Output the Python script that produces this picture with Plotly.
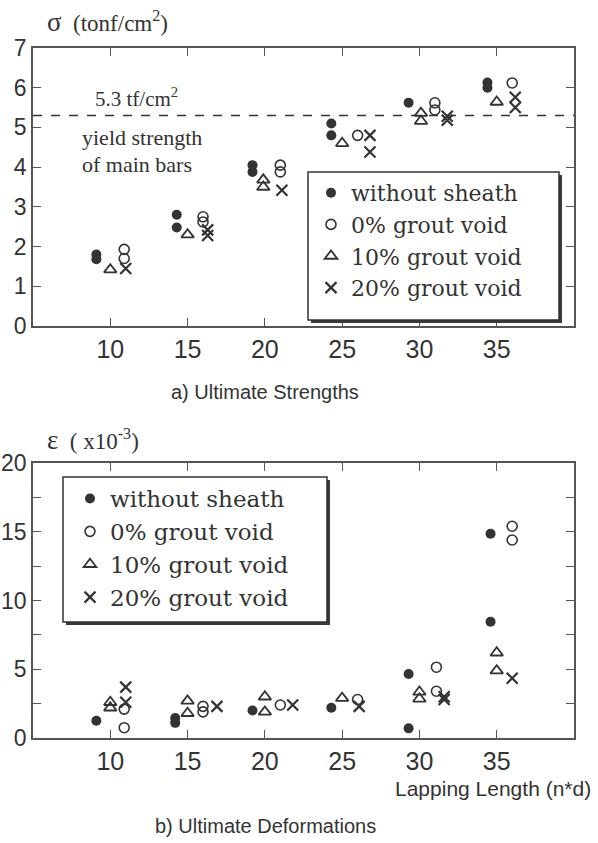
import plotly.graph_objects as go

# ---------------- data ----------------
series_names = ["without sheath", "0% grout void", "10% grout void", "20% grout void"]
x_ticks = [10, 15, 20, 25, 30, 35]
yield_strength = 5.3

# a) ultimate strengths sigma (tonf/cm2)
sig_without_x = [9.1, 9.1, 14.3, 14.3, 19.2, 19.2, 24.3, 24.3, 29.3, 34.4, 34.4]
sig_without_y = [1.8, 1.68, 2.8, 2.48, 4.05, 3.88, 5.1, 4.8, 5.62, 6.13, 6.0]
sig_0_x = [10.9, 10.9, 16.0, 16.0, 21.0, 21.0, 26.0, 31.0, 31.0, 36.0]
sig_0_y = [1.93, 1.7, 2.75, 2.62, 4.05, 3.88, 4.8, 5.62, 5.44, 6.12]
sig_10_x = [10.0, 15.0, 19.9, 19.9, 25.0, 30.1, 30.1, 35.0]
sig_10_y = [1.42, 2.3, 3.68, 3.5, 4.6, 5.36, 5.16, 5.64]
sig_20_x = [11.0, 16.3, 16.3, 21.1, 26.8, 26.8, 31.8, 31.8, 36.2, 36.2]
sig_20_y = [1.45, 2.42, 2.28, 3.42, 4.8, 4.38, 5.28, 5.18, 5.76, 5.5]

# b) ultimate deformations epsilon (x10^-3)
eps_without_x = [9.1, 14.2, 14.2, 19.2, 24.3, 29.3, 29.3, 34.6, 34.6]
eps_without_y = [1.25, 1.45, 1.1, 2.0, 2.2, 4.65, 0.7, 14.85, 8.45]
eps_0_x = [10.9, 10.9, 16.0, 16.0, 21.0, 26.0, 31.1, 31.1, 36.0, 36.0]
eps_0_y = [2.1, 0.75, 2.3, 1.9, 2.4, 2.8, 5.15, 3.4, 15.4, 14.4]
eps_10_x = [10.0, 10.0, 15.0, 15.0, 20.0, 20.0, 25.0, 30.0, 30.0, 35.0, 35.0]
eps_10_y = [2.6, 2.2, 2.7, 1.8, 3.0, 1.9, 2.9, 3.35, 2.85, 6.2, 4.9]
eps_20_x = [11.0, 11.0, 16.9, 21.8, 26.1, 31.6, 31.6, 36.0]
eps_20_y = [3.7, 2.6, 2.3, 2.4, 2.3, 3.0, 2.8, 4.35]

# ---------------- styles ----------------
INK = "#333333"
AX = "#555555"
SANS = "Liberation Sans"
SERIF = "Liberation Serif"
LEGF = "DejaVu Serif"

marker_styles = [
    dict(symbol="circle", size=10, color=INK, line=dict(width=0)),
    dict(symbol="circle-open", size=10, color=INK, line=dict(width=1.6, color=INK)),
    dict(symbol="triangle-up-open", size=11, color=INK, line=dict(width=1.8, color=INK)),
    dict(symbol="x-thin-open", size=11, color=INK, line=dict(width=2.2, color=INK)),
]

fig = go.Figure()

top_sets = [(sig_without_x, sig_without_y), (sig_0_x, sig_0_y), (sig_10_x, sig_10_y), (sig_20_x, sig_20_y)]
bot_sets = [(eps_without_x, eps_without_y), (eps_0_x, eps_0_y), (eps_10_x, eps_10_y), (eps_20_x, eps_20_y)]

for name, (xs, ys), ms in zip(series_names, top_sets, marker_styles):
    fig.add_trace(go.Scatter(x=xs, y=ys, mode="markers", name=name, marker=ms,
                             xaxis="x", yaxis="y", legend="legend"))
for name, (xs, ys), ms in zip(series_names, bot_sets, marker_styles):
    fig.add_trace(go.Scatter(x=xs, y=ys, mode="markers", name=name, marker=ms,
                             xaxis="x2", yaxis="y2", legend="legend2"))

W, H = 598, 843
def px(x):
    return x / W
def py(y):
    return 1 - y / H

axis_common = dict(showline=True, linecolor=AX, linewidth=1.6, mirror="ticks",
                   ticks="inside", ticklen=8, tickwidth=1.3, tickcolor=AX,
                   showgrid=False, zeroline=False, automargin=False,
                   tickfont=dict(family=SANS, size=23, color=INK))
xtickfont = dict(family=SANS, size=25, color=INK)

fig.update_layout(
    width=W, height=H, margin=dict(l=0, r=0, t=0, b=0, autoexpand=False),
    paper_bgcolor="white", plot_bgcolor="white",
    xaxis=dict(domain=[px(33), px(574)], range=[5, 40], tickvals=x_ticks, anchor="y",
               **{**axis_common, "tickfont": xtickfont}),
    yaxis=dict(domain=[py(326), py(48)], range=[0, 7], dtick=1, anchor="x", **axis_common),
    xaxis2=dict(domain=[px(33), px(574)], range=[5, 40], tickvals=x_ticks, anchor="y2",
                **{**axis_common, "tickfont": xtickfont}),
    yaxis2=dict(domain=[py(738), py(463)], range=[0, 20], dtick=5, anchor="x2",
                minor=dict(dtick=2.5, ticks="inside", ticklen=8, tickcolor=AX, tickwidth=1.3),
                **axis_common),
    legend=dict(x=px(311), y=py(172), xanchor="left", yanchor="top",
                bgcolor="rgba(0,0,0,0)", borderwidth=0,
                font=dict(family=LEGF, size=22, color=INK)),
    legend2=dict(x=px(70), y=py(477), xanchor="left", yanchor="top",
                 bgcolor="rgba(0,0,0,0)", borderwidth=0,
                 font=dict(family=LEGF, size=23, color=INK)),
    showlegend=True,
)

# yield strength line
fig.add_shape(type="line", xref="x", yref="y", x0=5, x1=40, y0=yield_strength, y1=yield_strength,
              line=dict(color=INK, width=1.6, dash="dash"))

# legend boxes with drop shadows
def legend_box(l, t, r, b):
    fig.add_shape(type="rect", xref="paper", yref="paper",
                  x0=px(l + 3), x1=px(r + 3), y0=py(b + 3), y1=py(t + 3),
                  fillcolor="#3a3a3a", line=dict(width=0), layer="above")
    fig.add_shape(type="rect", xref="paper", yref="paper",
                  x0=px(l), x1=px(r), y0=py(b), y1=py(t),
                  fillcolor="white", line=dict(width=1.5, color=INK), layer="above")

legend_box(308, 172, 559, 320)
legend_box(63, 477, 327, 622)

ann = []
def add_text(text, x, y, family, size, anchor="left"):
    ann.append(dict(text=text, x=px(x), y=py(y), xref="paper", yref="paper",
                    xanchor=anchor, yanchor="middle", showarrow=False,
                    font=dict(family=family, size=size, color=INK)))

add_text("<span style='font-size:27px'>σ</span>  (tonf/cm<sup>2</sup>)", 45, 22, SERIF, 23)
add_text("<span style='font-size:27px'>ε</span>  ( x10<sup>-3</sup>)", 45, 440, SERIF, 23)
add_text(f"{yield_strength} tf/cm<sup>2</sup>", 93, 98, SERIF, 21)
add_text("yield strength", 80, 137, SERIF, 22)
add_text("of main bars", 80, 164, SERIF, 22)
add_text("a) Ultimate Strengths", 265, 392, SANS, 20, "center")
add_text("b) Ultimate Deformations", 265, 826, SANS, 20, "center")
add_text("Lapping Length (n*d)", 593, 788, SANS, 21, "right")
fig.update_layout(annotations=ann)

fig.write_html("out.html")
